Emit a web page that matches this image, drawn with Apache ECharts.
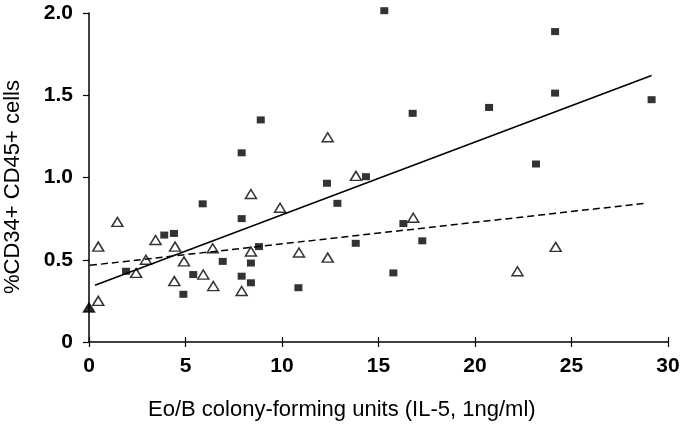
<!DOCTYPE html>
<html>
<head>
<meta charset="utf-8">
<script src="https://cdn.jsdelivr.net/npm/echarts@6/dist/echarts.min.js"></script>
<style>html,body{margin:0;padding:0;background:#fff;}#c{width:685px;height:432px;}</style>
</head>
<body>
<div id="c"></div>
<script>
var xTicks = [0, 5, 10, 15, 20, 25, 30];
var yTicks = ['0', '0.5', '1.0', '1.5', '2.0'];
var squares = [
  [1.92,0.43],[3.9,0.65],[4.4,0.66],[4.89,0.29],[5.4,0.41],[5.89,0.84],[6.93,0.49],
  [7.91,1.15],[7.91,0.75],[7.91,0.40],[8.39,0.48],[8.39,0.36],[8.81,0.58],[8.9,1.35],
  [10.85,0.33],[12.33,0.965],[12.87,0.843],[13.82,0.60],[14.35,1.005],[15.3,2.014],
  [15.77,0.42],[16.29,0.72],[16.77,1.39],[17.27,0.615],[20.73,1.426],[23.16,1.082],
  [24.15,1.887],[24.15,1.513],[29.15,1.473]
];
var triangles = [
  [0.48,0.58],[0.48,0.25],[1.47,0.73],[2.44,0.42],[2.95,0.50],[3.45,0.62],[4.42,0.37],
  [4.46,0.58],[4.92,0.49],[5.92,0.41],[6.41,0.57],[6.44,0.34],[7.91,0.31],[8.39,0.90],
  [8.39,0.55],[9.9,0.816],[10.88,0.544],[12.37,1.245],[12.37,0.513],[13.83,1.01],
  [16.8,0.755],[22.2,0.43],[24.18,0.578]
];
var filledTriangle = [[0,0.21]];
var solidFit = [[0.31,0.345],[29.15,1.62]];
var dashedFit = [[0.05,0.466],[28.8,0.843]];
var xTitle = 'Eo/B colony-forming units (IL-5, 1ng/ml)';
var yTitle = '%CD34+ CD45+ cells';

var chart = echarts.init(document.getElementById('c'), null, {renderer: 'canvas'});
var font = '"Liberation Sans", Arial, sans-serif';
chart.setOption({
  animation: false,
  backgroundColor: '#fff',
  grid: {left: 89, right: 17, top: 13, bottom: 90, containLabel: false},
  xAxis: [{
    type: 'value', min: 0, max: 30, interval: 5,
    axisLine: {show: true, lineStyle: {color: '#000', width: 1.5}},
    axisTick: {show: true, length: 5, lineStyle: {color: '#000', width: 1.2}},
    splitLine: {show: false},
    axisLabel: {color: '#000', fontFamily: font, fontWeight: 'bold', fontSize: 21, margin: 14,
      formatter: function (v) { return xTicks.indexOf(v) >= 0 ? String(v) : ''; }}
  }, {
    type: 'value', min: 0, max: 30, interval: 5, position: 'bottom',
    axisLine: {show: false},
    axisTick: {show: true, inside: true, length: 5, lineStyle: {color: '#000', width: 1.2}},
    axisLabel: {show: false}, splitLine: {show: false}
  }],
  yAxis: {
    type: 'value', min: 0, max: 2, interval: 0.5,
    axisLine: {show: true, lineStyle: {color: '#000', width: 1.5}},
    axisTick: {show: true, length: 6, lineStyle: {color: '#000', width: 1.2}},
    splitLine: {show: false},
    axisLabel: {color: '#000', fontFamily: font, fontWeight: 'bold', fontSize: 21, margin: 16,
      formatter: function (v) { return yTicks[Math.round(v / 0.5)]; }}
  },
  graphic: [{
    type: 'text', left: 148, top: 399,
    style: {text: xTitle, font: '22px ' + font, fill: '#000'}
  }, {
    type: 'text', x: 2, y: 294, rotation: Math.PI / 2,
    style: {text: yTitle, font: '22px ' + font, fill: '#000', textVerticalAlign: 'top'}
  }],
  series: [{
    type: 'line', data: solidFit, symbol: 'none', silent: true,
    lineStyle: {color: '#000', width: 1.5}
  }, {
    type: 'line', data: dashedFit, symbol: 'none', silent: true,
    lineStyle: {color: '#000', width: 1.5, type: [7, 4]}
  }, {
    type: 'scatter', data: squares, symbol: 'rect', symbolSize: [8, 7], clip: false,
    itemStyle: {color: '#000'}
  }, {
    type: 'scatter', data: triangles, symbol: 'triangle', symbolSize: [11, 9], clip: false,
    itemStyle: {color: '#fff', borderColor: '#000', borderWidth: 1.5}
  }, {
    type: 'scatter', data: filledTriangle, symbol: 'triangle', symbolSize: [11, 9], clip: false,
    itemStyle: {color: '#000', borderColor: '#000', borderWidth: 1.5}
  }]
});
</script>
</body>
</html>
